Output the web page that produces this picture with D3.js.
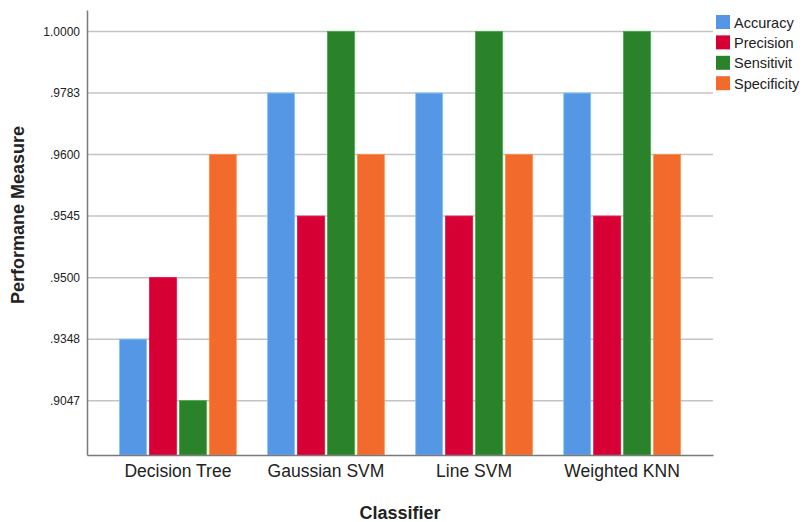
<!DOCTYPE html>
<html>
<head>
<meta charset="utf-8">
<script src="https://cdn.jsdelivr.net/npm/d3@7"></script>
<style>
  body { margin: 0; background: #fff; }
  svg text { font-family: 'Liberation Sans', Arial, sans-serif; fill: #222; }
</style>
</head>
<body>
<svg id="chart" width="803" height="522"></svg>
<script>
// data
const classifiers = ['Decision Tree', 'Gaussian SVM', 'Line SVM', 'Weighted KNN']
const measures = ['Accuracy', 'Precision', 'Sensitivit', 'Specificity']
const accuracy = [0.9348, 0.9783, 0.9783, 0.9783]
const precision = [0.9500, 0.9545, 0.9545, 0.9545]
const sensitivity = [0.9047, 1.0000, 1.0000, 1.0000]
const specificity = [0.9600, 0.9600, 0.9600, 0.9600]
// the axis is categorical: each distinct value gets its own evenly spaced tick
const tickValues = [0.9047, 0.9348, 0.9500, 0.9545, 0.9600, 0.9783, 1.0000]
const tickLabels = ['.9047', '.9348', '.9500', '.9545', '.9600', '.9783', '1.0000']
const colors = ['#5596e5', '#d70034', '#2a832a', '#f26a2c']

const series = [accuracy, precision, sensitivity, specificity]
const rows = classifiers.map((c, i) => ({
  name: c,
  vals: measures.map((m, j) => ({ key: m, value: series[j][i], color: colors[j] }))
}))

const svg = d3.select('#chart')
const plot = {left: 87, right: 713, top: 10, bottom: 455}

// rank of a value on the axis (1..7)
const rank = v => tickValues.indexOf(v) + 1
const y = d3.scaleLinear()
  .domain([0.117, 7.35])
  .range([plot.bottom, plot.top])

const x0 = d3.scaleBand()
  .domain(classifiers)
  .range([plot.left, plot.right])
  .paddingInner(0.212)
  .paddingOuter(0.22)

const x1 = d3.scaleBand()
  .domain(measures)
  .range([0, x0.bandwidth()])
  .paddingInner(0.1)

// gridlines
svg.append('g')
  .selectAll('line')
  .data(tickValues)
  .enter()
  .append('line')
  .attr('x1', plot.left)
  .attr('x2', plot.right)
  .attr('y1', d => y(rank(d)))
  .attr('y2', d => y(rank(d)))
  .style('stroke', '#c4c4c4')
  .style('stroke-width', 1.5)

// bars
let groups = svg.append('g')
  .selectAll('g')
  .data(rows)
  .enter()
  .append('g')
  .attr('transform', d => 'translate(' + x0(d.name) + ',0)')
groups.selectAll('rect')
  .data(d => d.vals)
  .enter()
  .append('rect')
  .attr('x', d => x1(d.key))
  .attr('width', x1.bandwidth())
  .attr('y', d => y(rank(d.value)))
  .attr('height', d => y(0.117) - y(rank(d.value)))
  .style('fill', d => d.color)
  .style('stroke', d => d3.color(d.color).brighter(0.8))
  .style('stroke-width', 0.8)

// y axis
let yAxis = svg.append('g')
  .attr('transform', 'translate(' + plot.left + ',0)')
  .call(d3.axisLeft(y)
    .tickValues(tickValues.map(rank))
    .tickFormat(r => tickLabels[r - 1])
    .tickSize(0)
    .tickPadding(7))
yAxis.select('.domain').style('stroke', '#7a7a7a').style('stroke-width', 1.5)
yAxis.selectAll('text').style('font-size', '12px').style('fill', '#222')

// x axis
let xAxis = svg.append('g')
  .attr('transform', 'translate(0,' + plot.bottom + ')')
  .call(d3.axisBottom(x0).tickSize(0).tickPadding(10))
xAxis.select('.domain').style('stroke', '#7a7a7a').style('stroke-width', 1.5)
xAxis.selectAll('text').style('font-size', '17.5px').style('fill', '#222')

// titles
svg.append('text')
  .attr('x', 400)
  .attr('y', 519)
  .attr('text-anchor', 'middle')
  .style('font-size', '18px')
  .style('font-weight', 'bold')
  .text('Classifier')
svg.append('text')
  .attr('transform', 'translate(24,215) rotate(-90)')
  .attr('text-anchor', 'middle')
  .style('font-size', '18px')
  .style('font-weight', 'bold')
  .text('Performane Measure')

// legend
let legend = svg.append('g')
  .attr('transform', 'translate(716,15)')
  .selectAll('g')
  .data(measures)
  .enter()
  .append('g')
  .attr('transform', (d, i) => 'translate(0,' + i * 20.4 + ')')
legend.append('rect')
  .attr('width', 14)
  .attr('height', 14)
  .style('fill', (d, i) => colors[i])
legend.append('text')
  .attr('x', 18)
  .attr('y', 12.5)
  .style('font-size', '14.5px')
  .text(d => d)
</script>
</body>
</html>
